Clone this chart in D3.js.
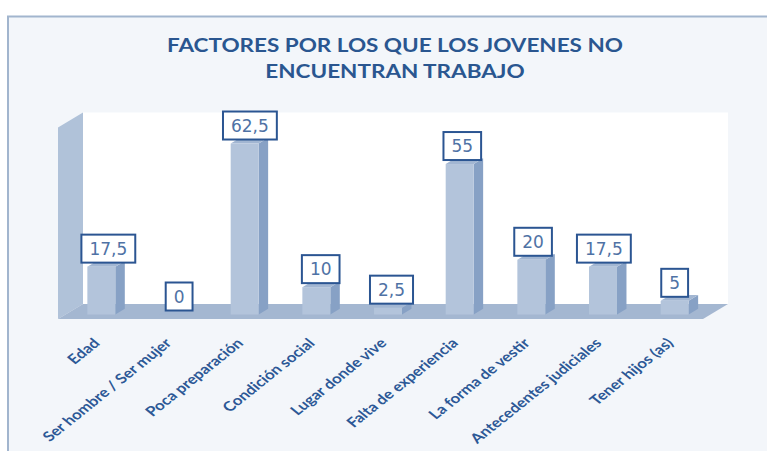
<!DOCTYPE html>
<html>
<head>
<meta charset="utf-8">
<script src="https://cdn.jsdelivr.net/npm/d3@7"></script>
<style>
  body { margin: 0; background: #fff; }
  svg { display: block; }
</style>
</head>
<body>
<svg id="chart" width="767" height="451"></svg>
<script>
const categories = ["Edad", "Ser hombre / Ser mujer", "Poca preparación", "Condición  social",
  "Lugar donde vive", "Falta de experiencia", "La forma de vestir", "Antecedentes judiciales", "Tener hijos (as)"];
const values = [17.5, 0, 62.5, 10, 2.5, 55, 20, 17.5, 5];
const valueLabels = ["17,5", "0", "62,5", "10", "2,5", "55", "20", "17,5", "5"];
const titleLines = ["FACTORES POR LOS QUE LOS JOVENES NO", "ENCUENTRAN TRABAJO"];

const svg = d3.select("#chart");
// the original picture is stretched sideways, so text gets the same stretch
const stretch = 1.25;

// chart frame
svg.append("rect").attr("x", 8).attr("y", 16.5).attr("width", 800).attr("height", 500)
  .attr("fill", "#f3f6fa").attr("stroke", "#a2b5ce").attr("stroke-width", 2);

svg.selectAll("text.title")
  .data(titleLines)
  .enter().append("text")
  .attr("class", "title")
  .attr("transform", (d, i) => `translate(395,${52 + i * 26}) scale(${stretch},1)`)
  .attr("text-anchor", "middle")
  .attr("font-family", "Lato, sans-serif")
  .attr("font-weight", "bold")
  .attr("font-size", 18)
  .attr("fill", "#2a5690")
  .text(d => d);

// 3d geometry: front plane scales, depth shifts points up/right
const depthX = 25, depthY = -15;
const x = d3.scaleBand().domain(categories).range([58, 703]).paddingInner(0.61).paddingOuter(0.305);
const y = d3.scaleLinear().domain([0, 70]).range([319, 127.5]);
const shift = (t) => [depthX * t, depthY * t];

const pts = a => a.map(p => p.join(",")).join(" ");

const [bx, by] = shift(1);
// back wall
svg.append("rect").attr("x", x.range()[0] + bx).attr("y", y(70) + by)
  .attr("width", x.range()[1] - x.range()[0]).attr("height", y(0) - y(70))
  .attr("fill", "#ffffff");
// left wall
const x0 = x.range()[0];
svg.append("polygon")
  .attr("points", pts([[x0, y(0)], [x0, y(70)], [x0 + bx, y(70) + by], [x0 + bx, y(0) + by]]))
  .attr("fill", "#b0c2d9");
// floor
const x1 = x.range()[1];
svg.append("polygon")
  .attr("points", pts([[x0, y(0)], [x1, y(0)], [x1 + bx, y(0) + by], [x0 + bx, y(0) + by]]))
  .attr("fill", "#a4b7d1");

// bars
const [fx, fy] = shift(0.3);
const [sx, sy] = shift(0.38);
const bars = svg.append("g");
categories.forEach((c, i) => {
  const l = x(c) + fx, r = l + x.bandwidth();
  const top = y(values[i]) + fy, bot = y(0) + fy;
  bars.append("polygon")
    .attr("points", pts([[r, top], [r + sx, top + sy], [r + sx, bot + sy], [r, bot]]))
    .attr("fill", "#87a1c5");
  bars.append("polygon")
    .attr("points", pts([[l, top], [r, top], [r + sx, top + sy], [l + sx, top + sy]]))
    .attr("fill", "#a2b6d2");
  bars.append("rect").attr("x", l).attr("y", top).attr("width", r - l).attr("height", bot - top)
    .attr("fill", "#b3c4db");
});

// data labels
const labels = svg.append("g");
categories.forEach((c, i) => {
  const cx = x(c) + fx + x.bandwidth() / 2 + 7 * (1 - i / 8);
  const bottom = y(values[i]) + fy - 4;
  const t = labels.append("text")
    .attr("x", cx).attr("y", bottom - 8)
    .attr("text-anchor", "middle")
    .attr("font-family", "DejaVu Sans, sans-serif")
    .attr("font-size", 17)
    .attr("fill", "#4f72a5")
    .text(valueLabels[i]);
  const w = t.node().getComputedTextLength() + 16;
  labels.insert("rect", "text")
    .attr("x", cx - w / 2).attr("y", bottom - 28)
    .attr("width", w).attr("height", 28)
    .attr("fill", "#ffffff").attr("stroke", "#2b5592").attr("stroke-width", 2);
});

// category labels
svg.append("g").selectAll("text")
  .data(categories)
  .enter().append("text")
  .attr("transform", d => `translate(${x(d) + x.bandwidth() / 2 + 7},344) scale(${stretch},1) rotate(-45)`)
  .attr("text-anchor", "end")
  .attr("font-family", "Lato, sans-serif")
  .attr("font-weight", "bold")
  .attr("font-size", 13.5)
  .attr("fill", "#2c5896")
  .text(d => d);
</script>
</body>
</html>
